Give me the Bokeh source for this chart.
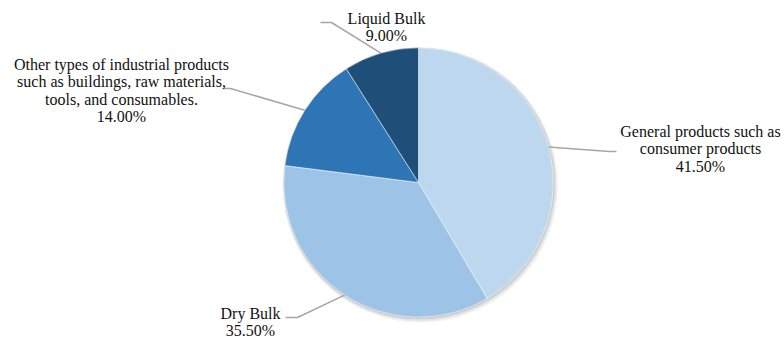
import numpy as np
from bokeh.plotting import figure
from bokeh.models import Range1d, ColumnDataSource
from bokeh.core.properties import value
from bokeh.embed import file_html
from bokeh.resources import INLINE

# ---- data ----
categories = [
    "General products such as consumer products",
    "Dry Bulk",
    "Other types of industrial products such as buildings, raw materials, tools, and consumables.",
    "Liquid Bulk",
]
shares = [41.5, 35.5, 14.0, 9.0]
pct_labels = ["41.50%", "35.50%", "14.00%", "9.00%"]
label_lines = [
    ["General products such as", "consumer products"],
    ["Dry Bulk"],
    ["Other types of industrial products", "such as buildings, raw materials,", "tools, and consumables."],
    ["Liquid Bulk"],
]
colors = ["#BDD7EE", "#9DC3E6", "#2E75B6", "#1F4E79"]

# ---- layout (pixel coordinates, y down) ----
W, H = 784, 340
CX, CY, R = 418, 182, 134.7
text_cx = [700, 250, 121, 386]
text_top = [131, 312.5, 64, 17.5]
line_gap = 17.3
elbow = [(609, 151), (297, 317), (230, 88), (331, 22)]
leader_end = [(616, 151), (285, 317), (222, 88), (320, 22)]

def fy(py):
    return H - py

p = figure(width=W, height=H, output_backend="svg", toolbar_location=None,
           x_range=Range1d(0, W), y_range=Range1d(0, H), min_border=0)
p.axis.visible = False
p.grid.visible = False
p.outline_line_color = None
p.background_fill_color = "white"
p.border_fill_color = "white"

vals = np.array(shares, dtype=float)
frac = vals / vals.sum()
cum = np.concatenate([[0], np.cumsum(frac)])
start = np.pi / 2 - 2 * np.pi * cum[:-1]
end = np.pi / 2 - 2 * np.pi * cum[1:]

# faint shadow
for k, a in [(3.0, 0.05), (2.0, 0.07), (1.0, 0.09)]:
    p.scatter(x=[CX + k * 0.6], y=[fy(CY) - k * 0.8], size=2 * (R + k), marker="circle",
              fill_color="#000000", fill_alpha=a, line_color=None)

src = ColumnDataSource(dict(x=[CX] * 4, y=[fy(CY)] * 4, start=start, end=end, color=colors))
p.wedge(x="x", y="y", radius=R, start_angle="start", end_angle="end", direction="clock",
        fill_color="color", line_color="white", line_width=0.5, source=src)

# leader lines
mid = (cum[:-1] + cum[1:]) / 2 * 2 * np.pi
for i in range(4):
    ex = CX + R * np.sin(mid[i])
    ey = CY - R * np.cos(mid[i])
    xs = [ex, elbow[i][0], leader_end[i][0]]
    ys = [fy(ey), fy(elbow[i][1]), fy(leader_end[i][1])]
    p.line(xs, ys, line_color="#A6A6A6", line_width=1.5)

# labels
tx, ty, tt = [], [], []
for i in range(4):
    lines = label_lines[i] + [pct_labels[i]]
    for j, ln in enumerate(lines):
        tx.append(text_cx[i])
        ty.append(fy(text_top[i] + j * line_gap))
        tt.append(ln)
p.text(x=tx, y=ty, text=tt, text_align="center", text_baseline="middle",
       text_font=value("Liberation Serif"), text_font_size="16px", text_color="#111111")

open("out.html", "w").write(file_html(p, INLINE))
